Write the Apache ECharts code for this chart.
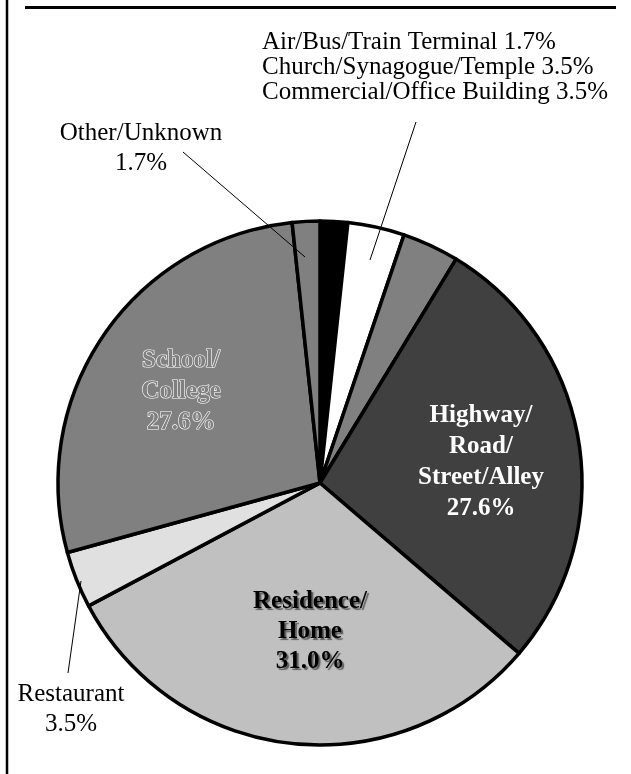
<!DOCTYPE html>
<html>
<head>
<meta charset="utf-8">
<script src="https://cdn.jsdelivr.net/npm/echarts@6/dist/echarts.min.js"></script>
<style>
  html, body { margin: 0; padding: 0; background: #fff; }
  #main { width: 631px; height: 774px; }
</style>
</head>
<body>
<div id="main"></div>
<script>
// slices, clockwise from 12 o'clock
var categories = ['Air/Bus/Train Terminal', 'Church/Synagogue/Temple', 'Commercial/Office Building',
  'Highway/\nRoad/\nStreet/Alley', 'Residence/\nHome', 'Restaurant', 'School/\nCollege', 'Other/Unknown'];
var shares = [1.7, 3.5, 3.5, 27.6, 31.0, 3.5, 27.6, 1.7];
var sliceColors = ['#000000', '#ffffff', '#808080', '#404040', '#c0c0c0', '#e0e0e0', '#808080', '#808080'];

// label anchor points (x, y)
var labelPos = [[262, 42], [262, 67], [262, 92], [481, 462], [310, 632], [71, 709], [181, 392], [141, 148]];
// leader lines from a slice to its label
var leaders = [
  [[370, 260], [416, 122]],
  [[81, 581], [68, 673]],
  [[305, 257], [183, 152]]
];

var serif = '"Liberation Serif", "Times New Roman", serif';

var plainLabel = { fontFamily: serif, fontSize: 25, color: '#000', lineHeight: 30 };
var labelStyles = [
  Object.assign({}, plainLabel, { align: 'left', lineHeight: 25 }),
  Object.assign({}, plainLabel, { align: 'left', lineHeight: 25 }),
  Object.assign({}, plainLabel, { align: 'left', lineHeight: 25 }),
  { fontFamily: serif, fontSize: 25, fontWeight: 'bold', color: '#fff', lineHeight: 31, align: 'center' },
  { fontFamily: serif, fontSize: 25, fontWeight: 'bold', color: '#000', lineHeight: 30, align: 'center',
    textShadowColor: 'rgba(60,60,60,0.75)', textShadowOffsetX: 2, textShadowOffsetY: 2, textShadowBlur: 1 },
  Object.assign({}, plainLabel, { align: 'center' }),
  { fontFamily: serif, fontSize: 25, fontWeight: 'bold', color: '#808080', lineHeight: 31, align: 'center',
    textBorderColor: '#fff', textBorderWidth: 1.2 },
  Object.assign({}, plainLabel, { align: 'center' })
];

var pieData = categories.map(function (name, i) {
  var inline = (i <= 2);
  return {
    name: name,
    value: shares[i],
    itemStyle: { color: sliceColors[i] },
    label: Object.assign({
      show: true,
      position: 'outside',
      formatter: name + (inline ? ' ' : '\n') + shares[i].toFixed(1) + '%'
    }, labelStyles[i]),
    labelLine: { show: false }
  };
});

var myChart = echarts.init(document.getElementById('main'), null, { renderer: 'canvas' });

var graphics = [
  // frame: top rule and left rule
  { type: 'line', shape: { x1: 25, y1: 7.5, x2: 616, y2: 7.5 }, style: { stroke: '#000', lineWidth: 3 } },
  { type: 'line', shape: { x1: 7, y1: 0, x2: 7, y2: 774 }, style: { stroke: '#000', lineWidth: 2.5 } }
];
leaders.forEach(function (pts) {
  graphics.push({
    type: 'polyline', z: 100, silent: true,
    shape: { points: pts },
    style: { stroke: '#000', lineWidth: 1, fill: null }
  });
});

var option = {
  animation: false,
  backgroundColor: '#fff',
  graphic: graphics,
  series: [{
    type: 'pie',
    center: [320, 483],
    radius: 262,
    startAngle: 90,
    clockwise: true,
    avoidLabelOverlap: false,
    silent: true,
    itemStyle: { borderColor: '#000', borderWidth: 3.5 },
    labelLayout: function (params) {
      var i = params.dataIndex;
      return {
        x: labelPos[i][0],
        y: labelPos[i][1],
        align: i <= 2 ? 'left' : 'center',
        verticalAlign: 'middle'
      };
    },
    data: pieData
  }]
};

myChart.setOption(option);
</script>
</body>
</html>
